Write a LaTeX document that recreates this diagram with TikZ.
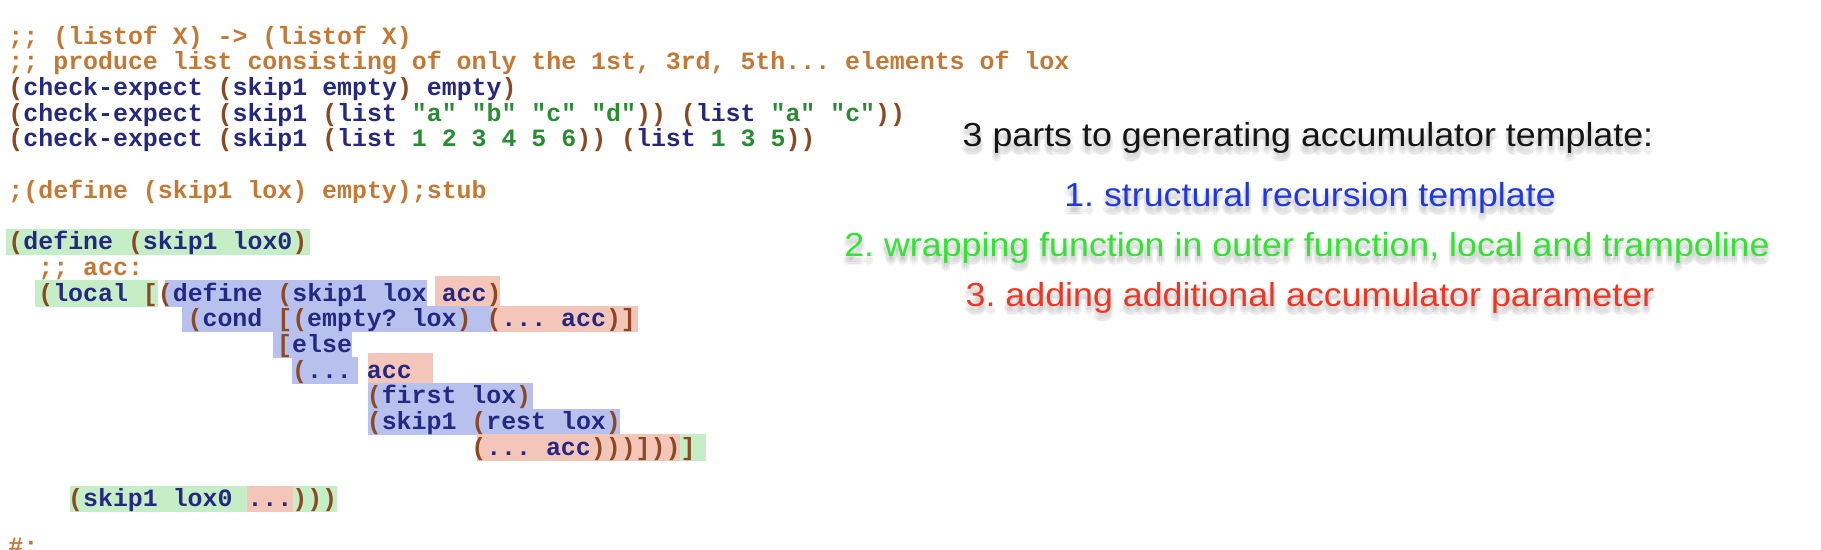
\documentclass[tikz,border=0pt]{standalone}
\usepackage{graphicx}
\usepackage{fontspec}
\setmainfont{Liberation Sans}
\setmonofont{Liberation Mono}
\newfontfamily\slidefont{Liberation Sans}
\definecolor{cmt}{RGB}{196,120,52}
\definecolor{sym}{RGB}{36,40,128}
\definecolor{par}{RGB}{140,72,32}
\definecolor{cst}{RGB}{40,140,50}
\definecolor{hlg}{RGB}{198,238,198}
\definecolor{hlb}{RGB}{184,192,238}
\definecolor{hlp}{RGB}{244,198,186}
\definecolor{tblack}{RGB}{20,20,20}
\definecolor{tblue}{RGB}{32,56,228}
\definecolor{tgreen}{RGB}{48,228,48}
\definecolor{tred}{RGB}{240,54,34}
\newcommand\zP[1]{\textcolor{par}{#1}}
\newcommand\zN[1]{\textcolor{cst}{#1}}
\def\xo{8.5}
\def\cw{14.93}
\def\yb{44}
\def\lh{25.7}
\frenchspacing
\tikzset{
  codeline/.style={anchor=base west, inner sep=0pt, outer sep=0pt,
    font=\ttfamily\bfseries\fontsize{24.9}{30}\selectfont\frenchspacing, text=sym},
  cmtline/.style={codeline, text=cmt},
  slideline/.style={anchor=base, inner sep=0pt, outer sep=0pt,
    font=\slidefont\fontsize{35.8}{40}\selectfont\frenchspacing},
  slideshadow/.style={slideline, text=black, opacity=0.035},
  hlgreen/.style={fill=hlg},
  hlblue/.style={fill=hlb},
  hlpink/.style={fill=hlp},
}
% highlight: style, line, from col, to col
\newcommand\hl[4]{\fill[#1] ({\xo+\cw*(#3)},{23+\lh*#2}) rectangle ({\xo+\cw*(#4)},{49.5+\lh*#2});}
\newcommand\hlt[4]{\fill[#1] ({\xo+\cw*(#3)},{19+\lh*#2}) rectangle ({\xo+\cw*(#4)},{49.5+\lh*#2});}
% slide text with soft shadow: name, x, baseline y, colour, text
\newcommand\shtext[5]{%
  \foreach \dx/\dy [count=\i] in {0/6,3/6,-3/6,0/9,0/3,2/8,-2/8,2/4,-2/4}
    {\node[slideshadow] (#1-sh\i) at ({#2+\dx},{#3+\dy}) {\scalebox{1}[0.93]{#5}};}
  \node[slideline, text=#4] (#1) at (#2,#3) {\scalebox{1}[0.93]{#5}};}
\begin{document}
\begin{tikzpicture}[x=1pt,y=-1pt]
\fill[white] (0,0) rectangle (1821,549);
\useasboundingbox (0,0) rectangle (1821,549);

% highlights
\hl{hlgreen}{8}{-0.2}{20.2}
\hl{hlgreen}{10}{1.8}{10.0}
\hl{hlblue}{10}{10.45}{28.0}
\hlt{hlpink}{10}{28.55}{32.9}
\hl{hlblue}{11}{11.6}{32.35}
\hl{hlpink}{11}{32.35}{42.15}
\hl{hlblue}{12}{17.7}{23.0}
\hl{hlblue}{13}{19.0}{23.4}
\hlt{hlpink}{13}{24.05}{28.4}
\hl{hlblue}{14}{24.05}{35.1}
\hl{hlblue}{15}{24.05}{40.95}
\hl{hlpink}{16}{31.4}{45.0}
\hl{hlgreen}{16}{45.0}{46.7}
\hl{hlgreen}{18}{4.1}{16.0}
\hl{hlpink}{18}{16.0}{19.05}
\hl{hlgreen}{18}{19.05}{22.0}

% code
\node[cmtline] (l0) at ({\xo},{\yb+\lh*0}) {;; (listof X) -> (listof X)};
\node[cmtline] (l1) at ({\xo},{\yb+\lh*1}) {;; produce list consisting of only the 1st, 3rd, 5th... elements of lox};
\node[codeline] (l2) at ({\xo},{\yb+\lh*2}) {\zP{(}check-expect \zP{(}skip1 empty\zP{)} empty\zP{)}};
\node[codeline] (l3) at ({\xo},{\yb+\lh*3}) {\zP{(}check-expect \zP{(}skip1 \zP{(}list \zN{"a"} \zN{"b"} \zN{"c"} \zN{"d"}\zP{))} \zP{(}list \zN{"a"} \zN{"c"}\zP{))}};
\node[codeline] (l4) at ({\xo},{\yb+\lh*4}) {\zP{(}check-expect \zP{(}skip1 \zP{(}list \zN{1 2 3 4 5 6}\zP{))} \zP{(}list \zN{1 3 5}\zP{))}};
\node[cmtline] (l6) at ({\xo},{\yb+\lh*6}) {;(define (skip1 lox) empty);stub};
\node[codeline] (l8) at ({\xo},{\yb+\lh*8}) {\zP{(}define \zP{(}skip1 lox0\zP{)}};
\node[cmtline] (l9) at ({\xo+\cw*2},{\yb+\lh*9}) {;; acc:};
\node[codeline] (l10) at ({\xo+\cw*2},{\yb+\lh*10}) {\zP{(}local \zP{[(}define \zP{(}skip1 lox acc\zP{)}};
\node[codeline] (l11) at ({\xo+\cw*12},{\yb+\lh*11}) {\zP{(}cond \zP{[(}empty? lox\zP{)} \zP{(}... acc\zP{)]}};
\node[codeline] (l12) at ({\xo+\cw*18},{\yb+\lh*12}) {\zP{[}else};
\node[codeline] (l13) at ({\xo+\cw*19},{\yb+\lh*13}) {\zP{(}... acc};
\node[codeline] (l14) at ({\xo+\cw*24},{\yb+\lh*14}) {\zP{(}first lox\zP{)}};
\node[codeline] (l15) at ({\xo+\cw*24},{\yb+\lh*15}) {\zP{(}skip1 \zP{(}rest lox\zP{)}};
\node[codeline] (l16) at ({\xo+\cw*31},{\yb+\lh*16}) {\zP{(}... acc\zP{)))]))]}};
\node[codeline] (l18) at ({\xo+\cw*4},{\yb+\lh*18}) {\zP{(}skip1 lox0 ...\zP{)))}};
\node[cmtline] (l20) at ({\xo},554) {\#;};

% slide text
\shtext{ta}{1308}{146.5}{tblack}{3 parts to generating accumulator template:}
\shtext{tb}{1310}{206.5}{tblue}{1. structural recursion template}
\shtext{tc}{1307}{256.5}{tgreen}{2. wrapping function in outer function, local and trampoline}
\shtext{td}{1310}{306.5}{tred}{3. adding additional accumulator parameter}
\end{tikzpicture}
\end{document}
